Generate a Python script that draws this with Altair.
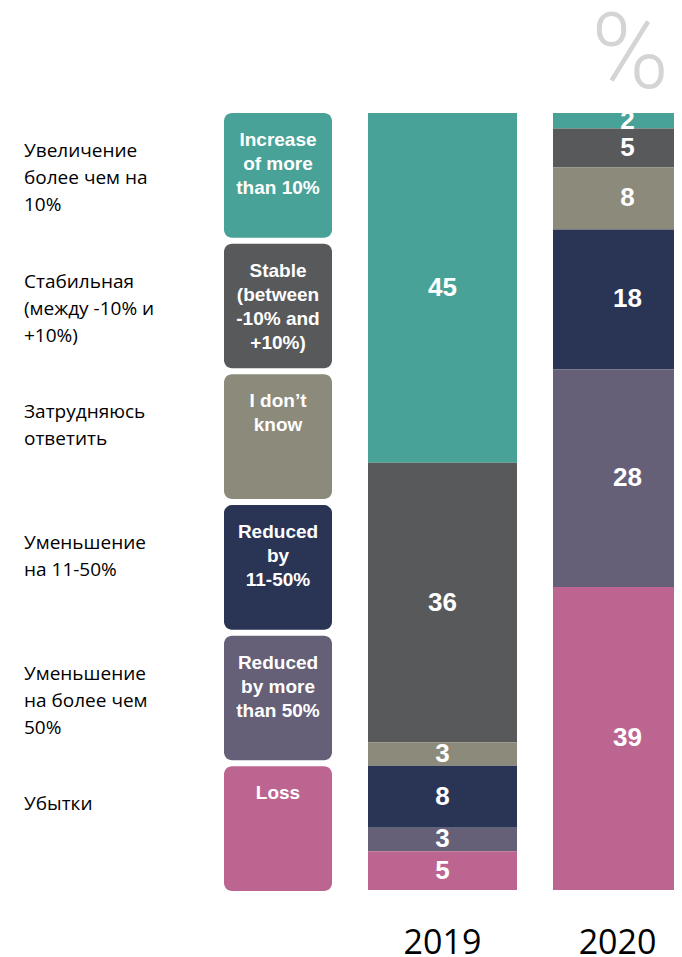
import altair as alt
import pandas as pd

# ---- data ----
categories = ["increase", "stable", "dontknow", "reduced_11_50", "reduced_50", "loss"]
box_labels = [
    "Increase\nof more\nthan 10%",
    "Stable\n(between\n-10% and\n+10%)",
    "I don’t\nknow",
    "Reduced\nby\n11-50%",
    "Reduced\nby more\nthan 50%",
    "Loss",
]
ru_labels = [
    "Увеличение\nболее чем на\n10%",
    "Стабильная\n(между -10% и\n+10%)",
    "Затрудняюсь\nответить",
    "Уменьшение\nна 11-50%",
    "Уменьшение\nна более чем\n50%",
    "Убытки",
]
colors = ["#49a297", "#58595b", "#8b8a7b", "#2a3556", "#655f77", "#bd6591"]
years = ["2019", "2020"]
values_2019 = [45, 36, 3, 8, 3, 5]
values_2020 = [2, 5, 8, 18, 28, 39]

df_cat = pd.DataFrame({
    "cat": categories,
    "idx": list(range(len(categories))),
    "en": box_labels,
    "ru": ru_labels,
})

rows = []
for year, vals in zip(years, [values_2019, values_2020]):
    for i, (c, v) in enumerate(zip(categories, vals)):
        rows.append({"year": year, "cat": c, "idx": i, "value": v})
df_bars = pd.DataFrame(rows)
df_years = pd.DataFrame({"year": years})
df_pct = pd.DataFrame({"t": ["%"]})

color = alt.Color("cat:N", scale=alt.Scale(domain=categories, range=colors), legend=None)

# ---- panel A: Russian labels + coloured legend boxes ----
ysc = alt.Scale(domain=categories, range=[105, 883], paddingInner=0.046, paddingOuter=0)

boxes = alt.Chart(df_cat).mark_rect(cornerRadius=8).encode(
    y=alt.Y("cat:N", scale=ysc, axis=None),
    x=alt.value(216), x2=alt.value(324),
    color=color,
)
box_text = alt.Chart(df_cat).mark_text(
    lineBreak="\n", baseline="top", align="center", dy=18,
    font="Liberation Sans", fontWeight="bold", fontSize=19, lineHeight=24, color="white",
).encode(
    y=alt.Y("cat:N", scale=ysc, axis=None, bandPosition=0),
    x=alt.value(270),
    text="en:N",
)
ru_text = alt.Chart(df_cat).mark_text(
    lineBreak="\n", baseline="top", align="left", dy=29,
    font="Open Sans", fontSize=19, lineHeight=27, color="black",
).encode(
    y=alt.Y("cat:N", scale=ysc, axis=None, bandPosition=0),
    x=alt.value(16),
    text="ru:N",
)
panel_a = alt.layer(boxes, box_text, ru_text).properties(width=324, height=882)

# ---- panel B: stacked bars ----
xsc = alt.Scale(domain=years, range=[36, 370], paddingInner=0.1946, paddingOuter=0)
ysc2 = alt.Scale(domain=[0, 100], range=[882, 105], nice=False, zero=True)
xaxis = alt.Axis(
    title=None, domain=False, ticks=False, labelAngle=0,
    labelFont="Open Sans", labelFontSize=34, labelColor="black", labelPadding=36,
    labelOffset={"condition": {"test": "datum.value == '2020'", "value": -10}, "value": 0},
)

base = alt.Chart(df_bars).transform_stack(
    stack="value", groupby=["year"], as_=["y0", "y1"],
    sort=[alt.SortField("idx", order="descending")],
).transform_calculate(mid="(datum.y0 + datum.y1) / 2")

bars = base.mark_bar(clip=True).encode(
    x=alt.X("year:N", scale=xsc, axis=xaxis),
    y=alt.Y("y0:Q", scale=ysc2, axis=None),
    y2="y1:Q",
    color=color,
)
bar_text = base.mark_text(
    clip=True, baseline="middle", align="center",
    font="Liberation Sans", fontWeight="bold", fontSize=26, color="white",
).encode(
    x=alt.X("year:N", scale=xsc, axis=xaxis),
    y=alt.Y("mid:Q", scale=ysc2, axis=None),
    text="value:Q",
)
baseline = alt.Chart(df_years).mark_rect(color="#d9d9d9", clip=True).encode(
    x=alt.X("year:N", scale=xsc, axis=xaxis),
    y=alt.value(886), y2=alt.value(887.5),
)
pct = alt.Chart(df_pct).mark_text(
    clip=True, font="Roboto", fontWeight=300, fontSize=105, color="#d4d4d4",
    align="center", baseline="alphabetic",
).encode(x=alt.value(298), y=alt.value(80), text="t:N")

panel_b = alt.layer(bars, bar_text, baseline, pct).properties(width=342, height=882)

chart = alt.hconcat(panel_a, panel_b, spacing=0, bounds="flush").resolve_scale(
    x="independent", y="independent", color="shared"
).properties(padding=0).configure_view(stroke=None)

chart.save("out.html", embed_options={"renderer": "svg", "actions": False})
